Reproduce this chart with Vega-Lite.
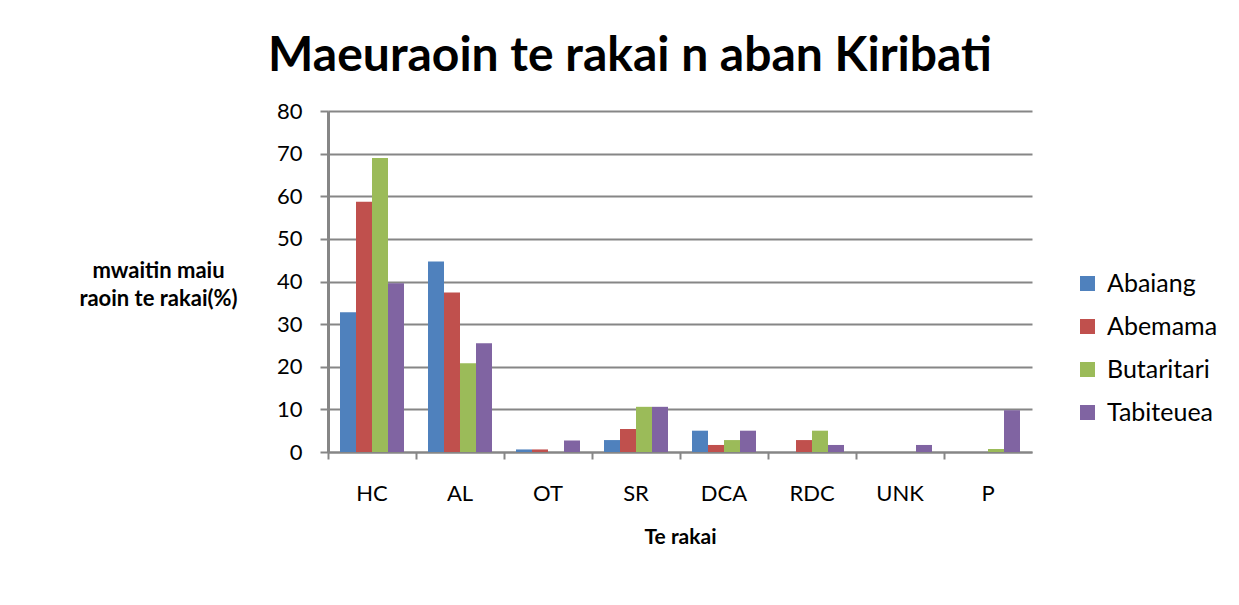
{
  "$schema": "https://vega.github.io/schema/vega-lite/v6.json",
  "width": 704,
  "height": 341,
  "autosize": {"type": "none"},
  "padding": {"left": 328, "top": 111, "right": 207, "bottom": 153},
  "background": "white",
  "title": {
    "text": "Maeuraoin te rakai n aban Kiribati",
    "font": "Lato",
    "fontSize": 48,
    "fontWeight": "bold",
    "color": "#000000",
    "anchor": "middle",
    "dx": -50,
    "dy": 55,
    "baseline": "alphabetic",
    "offset": 36
  },
  "data": {
    "values": [
      {"rakai": "HC", "aba": "Abaiang", "value": 32.8},
      {"rakai": "HC", "aba": "Abemama", "value": 58.7},
      {"rakai": "HC", "aba": "Butaritari", "value": 69.0},
      {"rakai": "HC", "aba": "Tabiteuea", "value": 39.6},
      {"rakai": "AL", "aba": "Abaiang", "value": 44.7},
      {"rakai": "AL", "aba": "Abemama", "value": 37.4},
      {"rakai": "AL", "aba": "Butaritari", "value": 20.8},
      {"rakai": "AL", "aba": "Tabiteuea", "value": 25.5},
      {"rakai": "OT", "aba": "Abaiang", "value": 0.6},
      {"rakai": "OT", "aba": "Abemama", "value": 0.6},
      {"rakai": "OT", "aba": "Butaritari", "value": 0},
      {"rakai": "OT", "aba": "Tabiteuea", "value": 2.7},
      {"rakai": "SR", "aba": "Abaiang", "value": 2.8},
      {"rakai": "SR", "aba": "Abemama", "value": 5.4},
      {"rakai": "SR", "aba": "Butaritari", "value": 10.6},
      {"rakai": "SR", "aba": "Tabiteuea", "value": 10.6},
      {"rakai": "DCA", "aba": "Abaiang", "value": 5.0},
      {"rakai": "DCA", "aba": "Abemama", "value": 1.65},
      {"rakai": "DCA", "aba": "Butaritari", "value": 2.8},
      {"rakai": "DCA", "aba": "Tabiteuea", "value": 5.0},
      {"rakai": "RDC", "aba": "Abaiang", "value": 0},
      {"rakai": "RDC", "aba": "Abemama", "value": 2.8},
      {"rakai": "RDC", "aba": "Butaritari", "value": 5.0},
      {"rakai": "RDC", "aba": "Tabiteuea", "value": 1.65},
      {"rakai": "UNK", "aba": "Abaiang", "value": 0},
      {"rakai": "UNK", "aba": "Abemama", "value": 0},
      {"rakai": "UNK", "aba": "Butaritari", "value": 0},
      {"rakai": "UNK", "aba": "Tabiteuea", "value": 1.65},
      {"rakai": "P", "aba": "Abaiang", "value": 0},
      {"rakai": "P", "aba": "Abemama", "value": 0},
      {"rakai": "P", "aba": "Butaritari", "value": 0.7},
      {"rakai": "P", "aba": "Tabiteuea", "value": 9.8}
    ]
  },
  "mark": {"type": "bar"},
  "encoding": {
    "x": {
      "field": "rakai",
      "type": "nominal",
      "sort": ["HC", "AL", "OT", "SR", "DCA", "RDC", "UNK", "P"],
      "scale": {"paddingInner": 0, "paddingOuter": 0},
      "axis": {
        "title": "Te rakai",
        "titleFont": "Lato",
        "titleFontSize": 21,
        "titleFontWeight": "bold",
        "titleColor": "#000000",
        "titlePadding": 22,
        "labelAngle": 0,
        "labelFont": "Lato",
        "labelFontSize": 22,
        "labelColor": "#000000",
        "labelPadding": 24,
        "bandPosition": 0,
        "tickSize": 7,
        "tickWidth": 2,
        "tickColor": "#868686",
        "domainColor": "#868686",
        "domainWidth": 2,
        "grid": false
      }
    },
    "xOffset": {
      "field": "aba",
      "type": "nominal",
      "scale": {"paddingInner": 0, "paddingOuter": 0.75}
    },
    "y": {
      "field": "value",
      "type": "quantitative",
      "scale": {"domain": [0, 80], "nice": false},
      "axis": {
        "values": [0, 10, 20, 30, 40, 50, 60, 70, 80],
        "title": ["mwaitin maiu", "raoin te rakai(%)"],
        "titleAngle": 0,
        "titleX": -170,
        "titleY": 149,
        "titleAlign": "center",
        "titleBaseline": "top",
        "titleFont": "Lato",
        "titleFontSize": 22,
        "titleFontWeight": "bold",
        "titleColor": "#000000",
        "titleLineHeight": 28,
        "labelFont": "Lato",
        "labelFontSize": 22,
        "labelColor": "#000000",
        "labelPadding": 18,
        "tickSize": 8,
        "tickWidth": 2,
        "tickColor": "#868686",
        "domainColor": "#868686",
        "domainWidth": 3,
        "grid": true,
        "gridColor": "#868686",
        "gridWidth": 2
      }
    },
    "color": {
      "field": "aba",
      "type": "nominal",
      "scale": {
        "domain": ["Abaiang", "Abemama", "Butaritari", "Tabiteuea"],
        "range": ["#4F81BD", "#C0504D", "#9BBB59", "#8064A2"]
      },
      "legend": {
        "title": null,
        "orient": "none",
        "legendX": 747,
        "legendY": 160,
        "symbolType": "square",
        "symbolSize": 225,
        "symbolStrokeWidth": 0,
        "labelFont": "Lato",
        "labelFontSize": 25,
        "labelColor": "#000000",
        "labelOffset": 7,
        "rowPadding": 17
      }
    }
  },
  "config": {
    "view": {"stroke": null}
  }
}
